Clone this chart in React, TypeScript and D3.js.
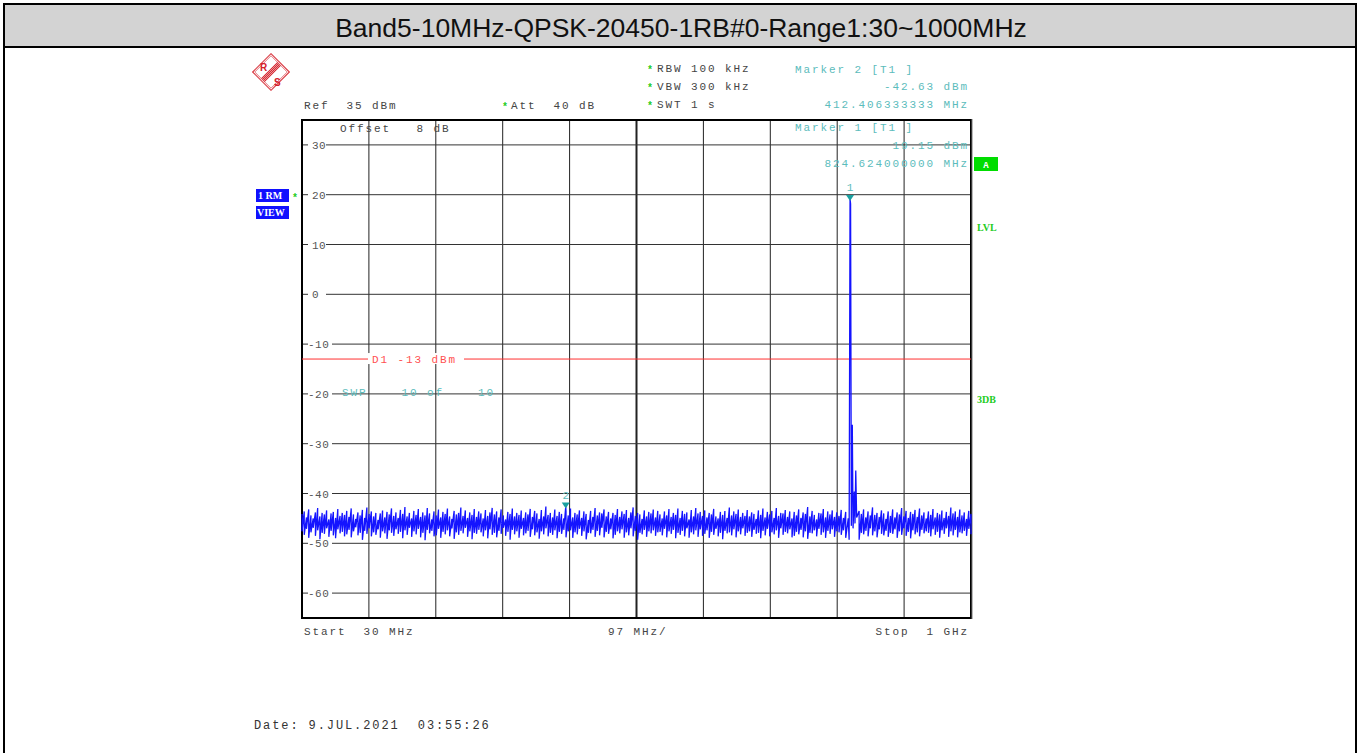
import React from 'react';
import * as d3 from 'd3';

// sweep settings
const startMHz = 30;
const stopMHz = 1000;
const refLevel = 35;
const bottomLevel = -65;
const yTicks = [30, 20, 10, 0, -10, -20, -30, -40, -50, -60];
const displayLine = -13;

// noise floor, 300 columns evenly spread from start to stop: upper and lower value per column (dBm)
const noiseHigh = [
  -44.1, -43.6, -44.8, -43.2, -44.4, -45.0, -43.8, -42.9, -44.6, -43.9, -44.2, -43.4, -45.2, -44.0, -43.7, -44.9, -43.1, -44.5, -43.9, -44.3,
  -43.5, -44.7, -43.0, -44.2, -45.1, -43.8, -44.4, -43.3, -44.9, -42.8, -44.1, -43.6, -44.6, -43.9, -45.3, -44.0, -43.4, -44.8, -43.7, -44.2,
  -43.0, -44.5, -43.8, -44.9, -43.3, -44.1, -42.7, -44.6, -43.9, -45.0, -43.5, -44.3, -43.1, -44.7, -43.8, -44.4, -42.9, -44.0, -45.2, -43.6,
  -44.4, -43.2, -44.8, -43.7, -44.1, -43.0, -44.6, -45.1, -43.5, -44.2, -43.9, -42.8, -44.5, -43.4, -44.9, -43.8, -44.3, -43.1, -44.7, -43.6,
  -44.0, -45.0, -43.3, -44.5, -43.8, -42.9, -44.2, -43.6, -44.8, -43.2, -44.4, -45.2, -43.7, -44.1, -43.0, -44.6, -43.9, -44.3, -43.4, -44.9,
  -43.8, -44.2, -43.1, -44.7, -43.5, -44.0, -45.1, -43.3, -44.6, -42.6, -44.3, -43.9, -44.8, -43.2, -44.5, -43.7, -44.1, -45.0, -43.6, -44.4,
  -43.0, -44.8, -43.9, -44.2, -43.4, -44.9, -43.6, -44.1, -45.3, -43.5, -44.7, -42.9, -44.4, -43.8, -44.0, -43.2, -44.6, -43.7, -45.0, -43.9,
  -44.3, -43.1, -44.7, -43.6, -44.1, -43.3, -44.9, -43.8, -42.8, -44.5, -43.9, -44.2, -45.1, -43.4, -44.6, -43.7, -44.0, -43.2, -44.8, -43.5,
  -44.2, -45.0, -43.6, -44.4, -43.1, -44.7, -43.9, -44.3, -43.0, -44.9, -43.5, -44.1, -43.8, -45.2, -43.3, -44.6, -42.9, -44.0, -43.7, -44.5,
  -43.4, -44.8, -43.9, -44.2, -43.1, -44.6, -45.0, -43.7, -44.3, -43.5, -44.9, -42.8, -44.4, -43.6, -44.1, -43.2, -44.7, -43.9, -44.5, -43.3,
  -44.6, -43.8, -44.1, -45.1, -43.4, -44.3, -43.0, -44.8, -43.7, -44.2, -43.5, -44.9, -42.9, -44.5, -43.9, -44.0, -43.3, -44.7, -43.6, -45.0,
  -43.7, -44.4, -43.2, -44.9, -43.8, -44.1, -42.7, -44.6, -43.5, -44.3, -45.2, -43.9, -44.0, -43.1, -44.8, -43.6, -44.2, -43.4, -44.7, -43.8,
  -44.5, -43.3, -44.9, -43.7, -44.2, -43.0, -44.6, -43.9, -45.0, -43.5, -44.1, -43.2, -44.8, -43.6, -44.4, -42.8, -44.3, -43.9, -44.7, -43.4,
  -44.0, -45.1, -43.6, -44.5, -43.2, -44.8, -43.8, -44.2, -42.9, -44.6, -43.5, -44.9, -43.7, -44.1, -43.3, -44.7, -43.0, -44.4, -43.8, -45.0,
  -43.6, -44.3, -43.1, -44.8, -43.9, -44.2, -43.4, -44.9, -43.7, -44.5, -42.8, -44.0, -43.6, -44.7, -43.2, -44.4, -43.8, -45.1, -43.5, -44.1,
];
const noiseLow = [
  -47.6, -48.3, -47.1, -48.9, -47.8, -46.9, -48.5, -47.4, -49.2, -47.9, -48.1, -47.0, -48.7, -47.5, -48.4, -49.0, -47.2, -48.0, -47.7, -48.6,
  -48.2, -47.3, -48.8, -47.6, -46.8, -48.4, -47.9, -49.3, -47.5, -48.1, -47.0, -48.6, -47.8, -48.3, -47.2, -48.9, -47.6, -48.0, -49.1, -47.4,
  -47.9, -48.5, -47.2, -48.1, -47.7, -49.0, -47.4, -48.3, -46.9, -48.7, -47.6, -48.2, -47.1, -48.8, -47.9, -49.4, -47.3, -48.0, -47.5, -48.6,
  -48.4, -47.1, -48.9, -47.7, -48.2, -47.4, -48.6, -47.0, -49.1, -47.8, -48.3, -47.5, -48.0, -46.9, -48.7, -47.6, -49.2, -47.9, -48.1, -47.3,
  -47.8, -48.6, -47.4, -49.0, -47.2, -48.3, -47.9, -48.8, -47.5, -48.1, -46.9, -48.5, -47.7, -49.3, -47.3, -48.2, -47.6, -48.9, -47.1, -48.4,
  -48.0, -47.5, -48.7, -47.2, -48.4, -47.8, -49.1, -47.6, -48.2, -47.0, -48.6, -47.9, -48.3, -47.4, -49.0, -47.7, -48.1, -47.3, -48.8, -47.6,
  -47.4, -48.9, -47.8, -48.2, -47.1, -48.5, -47.6, -49.2, -47.9, -48.0, -47.3, -48.7, -47.5, -48.4, -46.9, -48.8, -47.7, -48.1, -47.2, -49.0,
  -48.3, -47.6, -48.0, -47.2, -48.9, -47.8, -48.4, -47.0, -48.6, -47.5, -49.3, -47.9, -48.2, -47.3, -48.7, -47.6, -48.0, -47.4, -48.5, -47.8,
  -47.7, -48.4, -47.1, -48.8, -47.6, -48.1, -47.3, -49.0, -47.9, -48.3, -47.5, -48.6, -47.0, -48.9, -47.8, -48.2, -47.4, -48.7, -47.2, -48.5,
  -48.1, -47.4, -48.9, -47.7, -48.3, -47.1, -48.6, -47.9, -49.2, -47.5, -48.0, -47.8, -48.4, -47.2, -48.8, -47.6, -48.2, -47.0, -48.5, -47.9,
  -47.6, -48.7, -47.3, -48.1, -47.9, -49.0, -47.5, -48.4, -47.1, -48.6, -47.8, -48.2, -47.4, -48.9, -47.0, -48.3, -47.7, -48.0, -47.2, -48.8,
  -48.5, -47.7, -48.2, -47.3, -48.8, -47.6, -49.1, -47.9, -48.0, -47.4, -48.6, -47.1, -48.3, -47.8, -48.9, -47.5, -48.1, -47.2, -48.7, -47.6,
  -47.8, -48.3, -47.4, -48.9, -47.1, -48.5, -47.7, -48.0, -47.3, -49.3, -47.9, -48.2, -47.5, -48.6, -47.0, -48.4, -47.6, -48.8, -47.2, -48.1,
  -48.4, -47.5, -48.7, -47.9, -48.1, -47.2, -48.9, -47.6, -48.3, -47.0, -48.5, -47.7, -49.0, -47.4, -48.2, -47.8, -48.6, -47.3, -48.0, -47.6,
  -47.9, -48.6, -47.2, -48.3, -47.7, -48.9, -47.4, -48.1, -47.0, -48.7, -47.6, -48.4, -47.3, -48.8, -47.8, -48.0, -47.5, -48.5, -47.1, -48.2,
];

// carrier and spurs (MHz / dBm)
const spurFreqs = [412.406, 822.0, 823.3, 824.624, 825.4, 826.5, 827.9, 829.0, 830.8, 831.8, 832.9, 834.2];
const spurLevels = [-42.63, -45.0, -49.3, 19.15, 18.2, -46.5, -26.2, -47.0, -39.6, -46.0, -35.4, -44.8];

// markers
const markerNames = ['1', '2'];
const markerFreqs = [824.624, 412.406333333];
const markerLevels = [19.15, -42.63];

const title = 'Band5-10MHz-QPSK-20450-1RB#0-Range1:30~1000MHz';

const mono = 'Liberation Mono, DejaVu Sans Mono, monospace';
const teal = '#5cbcbc';
const gray = '#444';
const green = '#22cc22';
const red = '#d4202a';

const App = () => {
  const x = d3.scaleLinear().domain([startMHz, stopMHz]).range([302, 971]);
  const y = d3.scaleLinear().domain([bottomLevel, refLevel]).range([618, 120]);

  // each column: a stroke from its upper to its lower value, then on to the next column
  const step = (stopMHz - startMHz) / (noiseHigh.length - 1);
  const pts: [number, number][] = [];
  noiseHigh.forEach((hi, i) => {
    const f = startMHz + i * step;
    if (f > 819.5 && f < 835.5) return;
    pts.push([f, hi], [f, noiseLow[i]]);
  });
  spurFreqs.forEach((f, i) => pts.push([f, spurLevels[i]]));
  pts.sort((a, b) => a[0] - b[0]);

  const line = d3
    .line<[number, number]>()
    .x((d) => x(d[0]))
    .y((d) => y(d[1]));

  const xGrid = d3.range(11).map((i) => startMHz + i * 97);

  const pre = { whiteSpace: 'pre' as const };
  const txt = (s: string, tx: number, ty: number, fill = gray, anchor = 'start') => (
    <text x={tx} y={ty} fill={fill} fontFamily={mono} fontSize={11} letterSpacing={1.9} textAnchor={anchor} style={pre}>
      {s}
    </text>
  );
  const star = (sx: number, sy: number) => (
    <text x={sx} y={sy} fill={green} fontFamily={mono} fontSize={10} fontWeight="bold">
      *
    </text>
  );

  return (
    <svg width={1360} height={753} style={{ position: 'absolute', left: 0, top: 0, background: '#fff' }}>
      {/* frame and title */}
      <rect x={4} y={4} width={1352} height={760} fill="#fff" stroke="#000" strokeWidth={2} />
      <rect x={4} y={4} width={1352} height={43} fill="#d3d3d3" stroke="#000" strokeWidth={2} />
      <text x={681} y={37} textAnchor="middle" fontFamily="Liberation Sans, Arial, sans-serif" fontSize={26.5} fill="#111">
        {title}
      </text>

      {/* R&S logo */}
      <g transform="translate(271,72) rotate(45)" stroke={red} fill="none" strokeWidth={1}>
        <rect x={-13} y={-13} width={26} height={26} />
        <rect x={-11.5} y={-11.5} width={23} height={23} strokeWidth={0.6} />
        <line x1={-2} y1={-11.5} x2={-2} y2={11.5} />
        <line x1={-0.7} y1={-11.5} x2={-0.7} y2={11.5} />
        <line x1={0.7} y1={-11.5} x2={0.7} y2={11.5} />
        <line x1={2} y1={-11.5} x2={2} y2={11.5} />
      </g>
      <text x={260} y={71} fill={red} fontFamily="Liberation Sans, Arial" fontSize={10} fontWeight="bold">R</text>
      <text x={274} y={86} fill={red} fontFamily="Liberation Sans, Arial" fontSize={10} fontWeight="bold">S</text>

      {/* header */}
      {txt('Ref  35 dBm', 304, 109)}
      {star(502, 110)}
      {txt('Att  40 dB', 511, 109)}
      {star(647, 73)}
      {txt('RBW 100 kHz', 657, 72)}
      {star(647, 91)}
      {txt('VBW 300 kHz', 657, 90)}
      {star(647, 109)}
      {txt('SWT 1 s', 657, 108)}
      {txt('Marker 2 [T1 ]', 795, 73, teal)}
      {txt('-42.63 dBm', 969, 90, teal, 'end')}
      {txt('412.406333333 MHz', 969, 108, teal, 'end')}

      {/* grid */}
      {xGrid.map((f, i) => (
        <line key={'v' + i} x1={x(f)} x2={x(f)} y1={120} y2={618} stroke="#222" strokeWidth={i === 5 ? 2 : 1} />
      ))}
      {yTicks.map((v) => (
        <g key={'h' + v}>
          <line x1={302} x2={971} y1={y(v)} y2={y(v)} stroke="#333" strokeWidth={1} />
          <rect x={308} y={y(v) - 6} width={v < 0 ? 24 : 18} height={11} fill="#fff" />
          <text x={v < 0 ? 308 : 312} y={y(v) + 4} fill="#555" fontFamily={mono} fontSize={11} letterSpacing={0.5}>
            {v}
          </text>
        </g>
      ))}
      <rect x={302} y={120} width={669} height={498} fill="none" stroke="#000" strokeWidth={2} />
      <line x1={972} x2={972} y1={119} y2={619} stroke="#777" strokeWidth={1} />

      {/* texts inside the grid */}
      {txt('Offset   8 dB', 340, 132)}
      {txt('Marker 1 [T1 ]', 795, 131, teal)}
      {txt('19.15 dBm', 969, 149, teal, 'end')}
      {txt('824.624000000 MHz', 969, 167, teal, 'end')}

      {/* display line */}
      <line x1={302} x2={971} y1={y(displayLine)} y2={y(displayLine)} stroke="#ff3030" strokeWidth={1} />
      <rect x={368} y={y(displayLine) - 6} width={96} height={11} fill="#fff" />
      {txt('D1 -13 dBm', 372, y(displayLine) + 4, '#ff5050')}
      {txt('SWP    10 of    10', 342, 396, teal)}

      {/* trace */}
      <path d={line(pts) ?? ''} fill="none" stroke="#1414ff" strokeWidth={1.3} strokeLinejoin="miter" />

      {/* markers */}
      {markerNames.map((m, i) => {
        const mx = x(markerFreqs[i]);
        const my = y(markerLevels[i]);
        return (
          <g key={'m' + m}>
            <path d={`M${mx - 4},${my - 4}L${mx + 4},${my - 4}L${mx},${my + 2}Z`} fill="#1aa0a0" />
            <text x={mx} y={my - 8} textAnchor="middle" fill={teal} fontFamily={mono} fontSize={11}>
              {m}
            </text>
          </g>
        );
      })}

      {/* side labels */}
      <rect x={256} y={189} width={33} height={13} fill="#1010ff" />
      <text x={258} y={199} fill="#fff" fontFamily="Liberation Serif, serif" fontSize={10} fontWeight="bold">1 RM</text>
      <rect x={256} y={206} width={33} height={13} fill="#1010ff" />
      <text x={257} y={216} fill="#fff" fontFamily="Liberation Serif, serif" fontSize={10} fontWeight="bold">VIEW</text>
      {star(292, 201)}
      <rect x={974} y={157} width={24} height={14} fill="#00dd00" />
      <text x={986} y={168} textAnchor="middle" fill="#fff" fontFamily={mono} fontSize={9} fontWeight="bold">A</text>
      <text x={977} y={231} fill={green} fontFamily="Liberation Serif, serif" fontSize={10} fontWeight="bold">LVL</text>
      <text x={977} y={403} fill={green} fontFamily="Liberation Serif, serif" fontSize={10} fontWeight="bold">3DB</text>

      {/* footer */}
      {txt('Start  30 MHz', 304, 635)}
      {txt('97 MHz/', 608, 635)}
      {txt('Stop  1 GHz', 969, 635, gray, 'end')}
      <text x={254} y={729} fill="#333" fontFamily={mono} fontSize={12} letterSpacing={1.9} style={pre}>
        Date: 9.JUL.2021  03:55:26
      </text>
    </svg>
  );
};

export default App;
